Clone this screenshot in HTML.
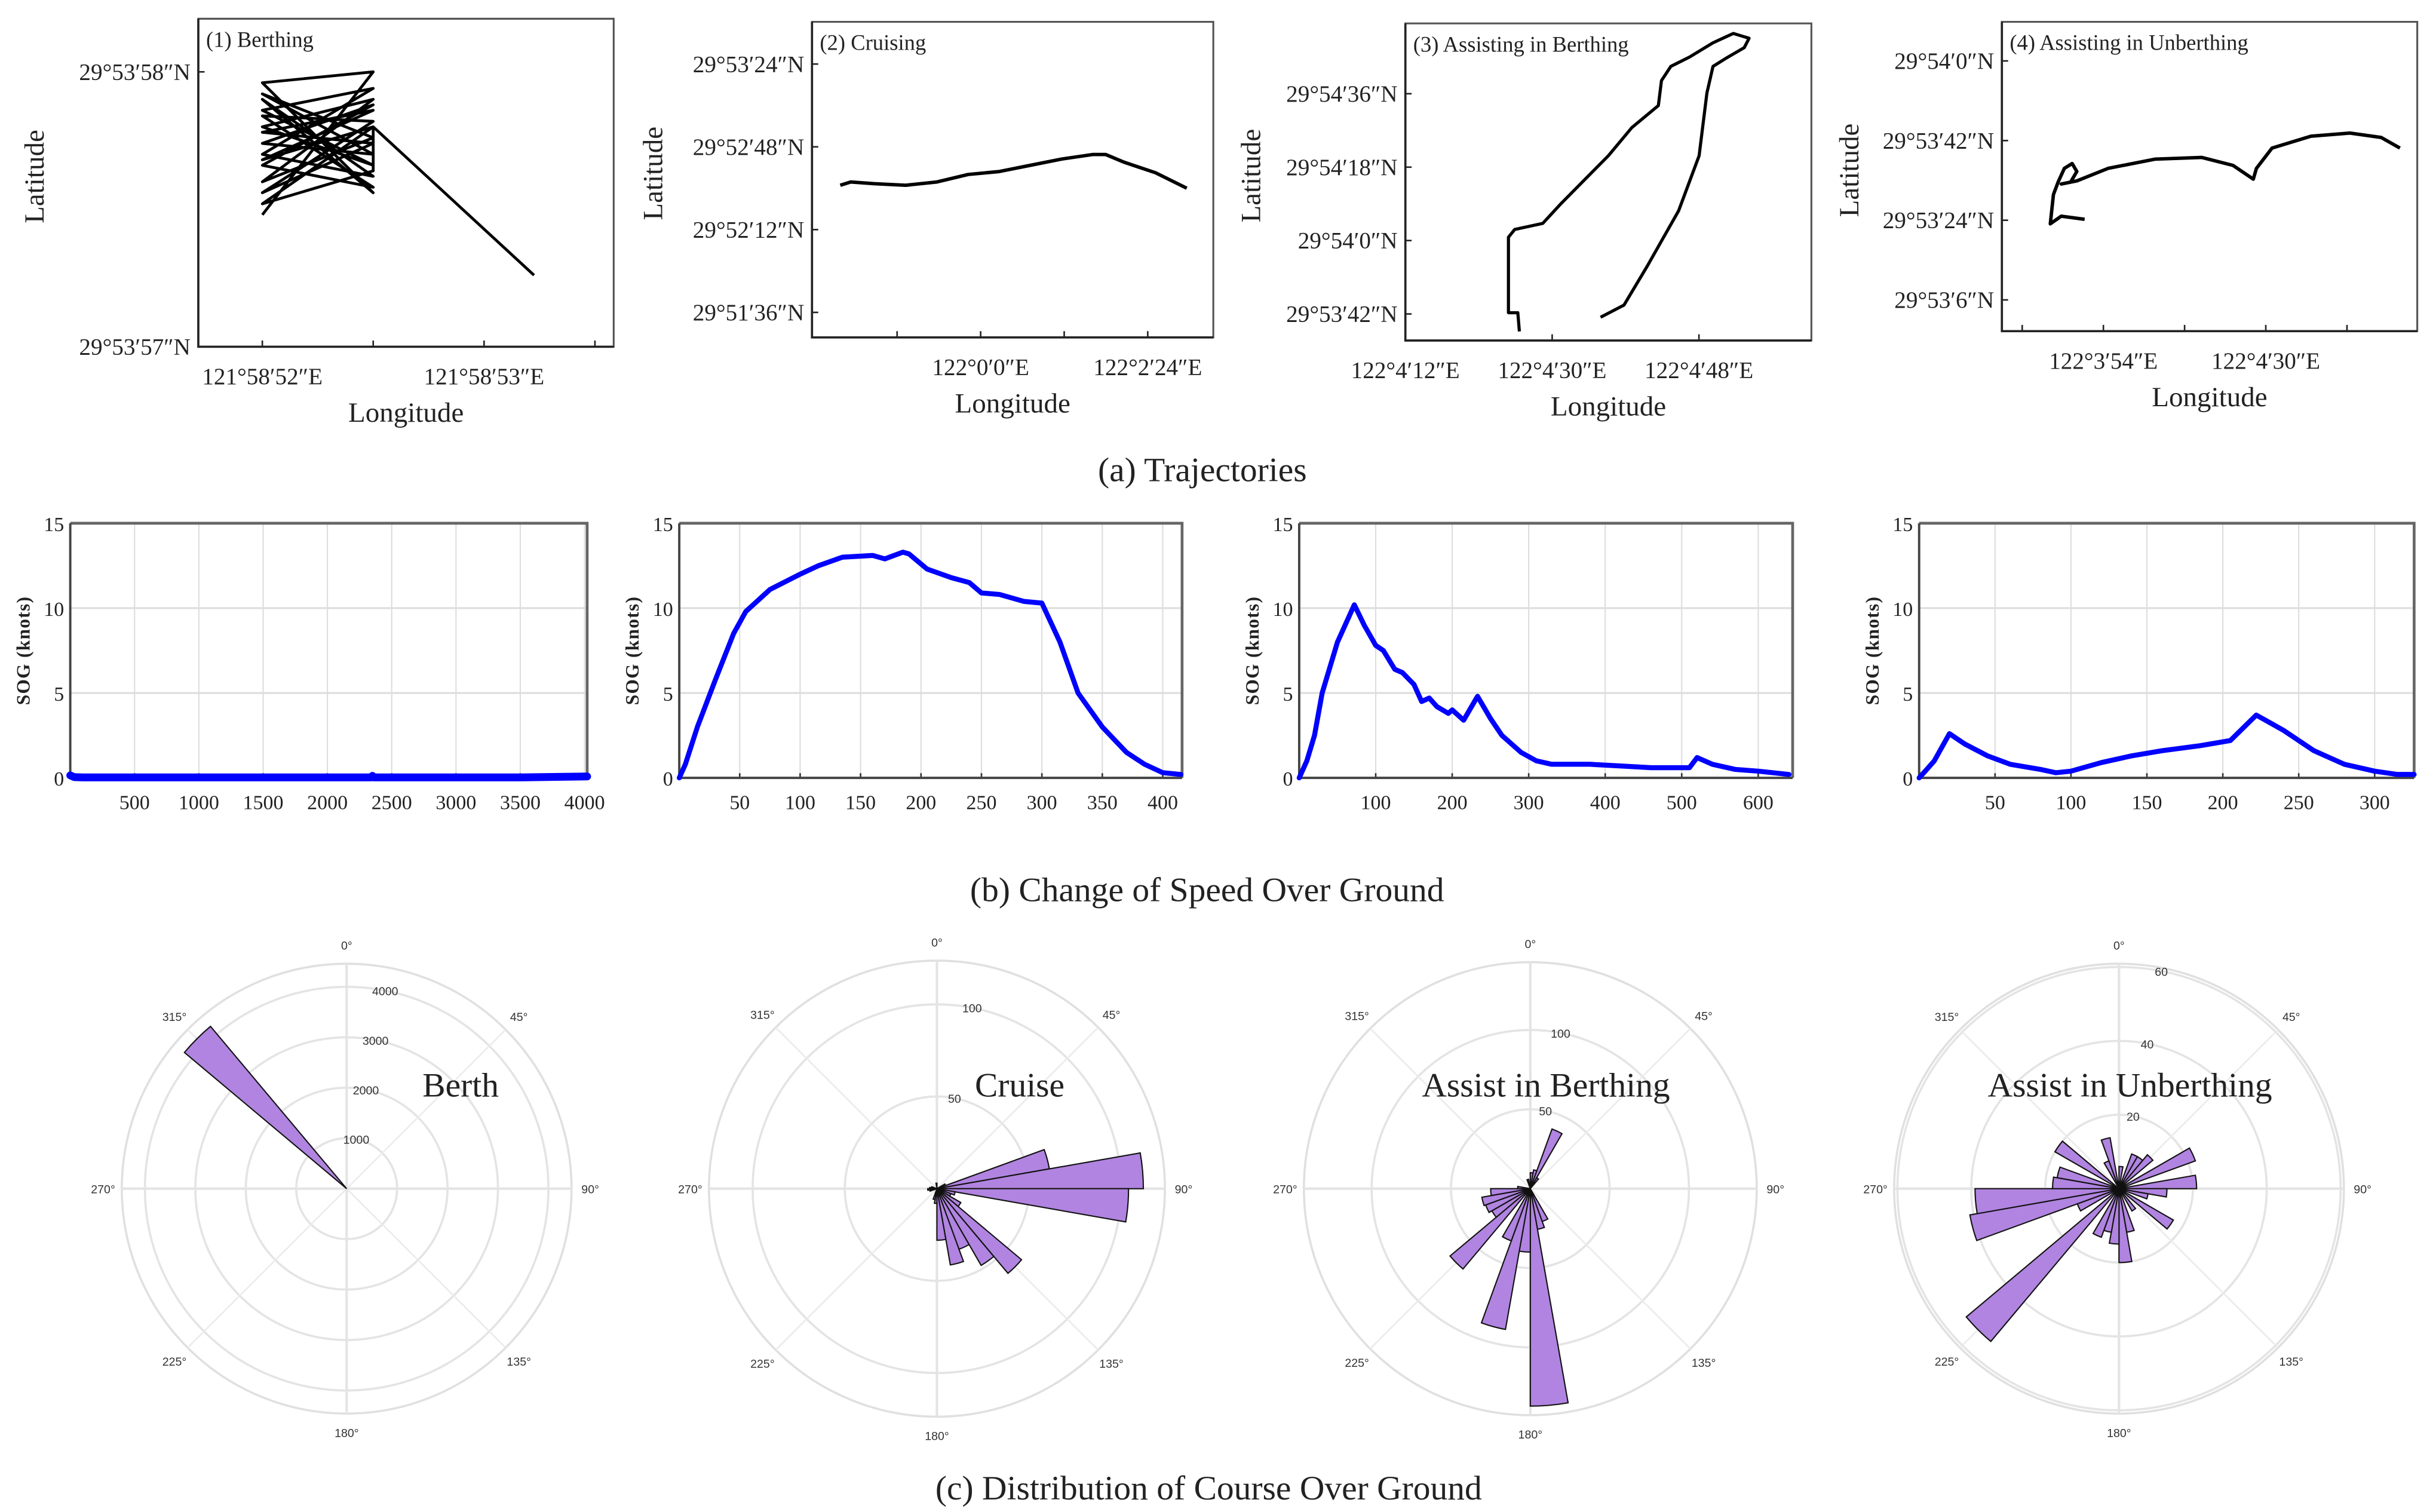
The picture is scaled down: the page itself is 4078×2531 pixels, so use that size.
<!DOCTYPE html>
<html><head><meta charset="utf-8"><style>
html,body{margin:0;padding:0;background:#fff;}
svg{display:block;}
text{font-family:"Liberation Serif",serif;fill:#222;}
.tk{font-size:15px;}
.ax{font-size:18px;}
.sm{font-size:12px;}
.pl{font-size:7.5px;font-family:"Liberation Sans",sans-serif;fill:#333;}
.big{font-size:22px;}
</style></head><body>
<svg id="fig" xmlns="http://www.w3.org/2000/svg" width="4078" height="2531" viewBox="0 0 1560 968" preserveAspectRatio="none">
<rect x="0" y="0" width="1560" height="968" fill="#fff"/>
<text class="big" x="770" y="308" text-anchor="middle">(a) Trajectories</text>
<text class="big" x="773" y="577" text-anchor="middle">(b) Change of Speed Over Ground</text>
<text class="big" x="774" y="960" text-anchor="middle">(c) Distribution of Course Over Ground</text>
</svg>
<script>
// ---------- Trajectory data (lon seconds, lat seconds) ----------
const t1Lon=[52.0,52.5,52.0,52.5,52.0,52.5,52.0,52.5,52.0,52.5,52.0,52.5,52.0,52.5,52.0,52.5,52.0,52.5,52.0,52.5,52.0,52.5,52.0,52.5,52.0,52.5,52.0,52.5,52.0,52.5,52.5,53.225];
const t1Lat=[57.48,58.0,57.96,57.56,57.90,57.62,57.70,57.94,57.86,57.66,57.80,57.90,57.60,57.76,57.92,57.70,57.74,57.88,57.66,57.58,57.84,57.82,57.56,57.74,57.78,57.86,57.68,57.80,57.52,57.64,57.80,57.26];
const t2Lon=[-121,-112,-91.5,-64.6,-37.7,-10.8,16.2,43.1,70,96.9,107.7,123.8,150.7,177.7];
const t2Lat=[31.3,32.7,32,31.3,32.7,36,37.3,40,42.7,44.7,44.7,41.3,36.7,30];
const t3Lon=[265.98,265.79,264.64,264.64,265.40,268.85,271.15,276.90,279.77,283.03,283.41,284.56,286.86,289.73,292.22,294.14,293.56,291.26,289.73,288.97,288.01,285.52,281.69,278.81,275.94];
const t3Lat=[37.7,42.3,42.3,60.8,62.7,64.2,69.2,80.8,87.7,93.1,99.2,102.7,105,108.5,110.8,109.6,107.3,104.6,102.7,96.2,80.8,67.3,53.8,44.2,41.2];
const t4Lon=[229.85,224.66,222.24,222.93,223.97,225.35,227.08,228.12,226.73,224.66,228.12,235.04,245.42,255.80,262.72,267.22,267.91,271.37,280.02,288.67,295.59,299.74];
const t4Lat=[24.2,24.9,23.2,29.8,32.6,35.7,36.8,35.0,32.6,32.2,32.9,35.7,37.8,38.2,36.4,33.3,35.7,40.3,43.0,43.7,42.7,40.3];
const t1XTicks=[52,52.5,53,53.5], t1XLabels=["121°58′52″E","","121°58′53″E",""];
const t1YTicks=[58,57], t1YLabels=["29°53′58″N","29°53′57″N"];
const t2XTicks=[-72,0,72,144], t2XLabels=["","122°0′0″E","","122°2′24″E"];
const t2YTicks=[84,48,12,-24], t2YLabels=["29°53′24″N","29°52′48″N","29°52′12″N","29°51′36″N"];
const t3XTicks=[252,270,288], t3XLabels=["122°4′12″E","122°4′30″E","122°4′48″E"];
const t3YTicks=[96,78,60,42], t3YLabels=["29°54′36″N","29°54′18″N","29°54′0″N","29°53′42″N"];
const t4XTicks=[216,234,252,270,288], t4XLabels=["","122°3′54″E","","122°4′30″E",""];
const t4YTicks=[60,42,24,6], t4YLabels=["29°54′0″N","29°53′42″N","29°53′24″N","29°53′6″N"];

// ---------- SOG data ----------
const s1X=[0,30,100,500,1000,1500,2000,2340,2350,2360,3000,3500,4020];
const s1Y=[0.15,0.05,0.03,0.03,0.03,0.03,0.03,0.03,0.12,0.03,0.03,0.03,0.08];
const s2X=[0,5,15,30,45,55,75,100,115,135,160,170,185,190,205,225,240,250,265,285,300,315,330,350,370,385,400,415];
const s2Y=[0,0.8,3,5.8,8.5,9.8,11.1,12,12.5,13,13.1,12.9,13.3,13.2,12.3,11.8,11.5,10.9,10.8,10.4,10.3,8,5,3,1.5,0.8,0.3,0.2];
const s3X=[0,10,20,30,50,72,85,100,110,125,135,150,160,170,180,195,200,215,233,250,265,290,310,330,380,420,460,510,520,540,570,600,640];
const s3Y=[0,1,2.5,5,8,10.2,9,7.8,7.5,6.4,6.2,5.5,4.5,4.7,4.2,3.8,4,3.4,4.8,3.5,2.5,1.5,1,0.8,0.8,0.7,0.6,0.6,1.2,0.8,0.5,0.4,0.2];
const s4X=[0,5,10,20,30,45,60,80,90,100,120,140,160,185,205,222,240,260,280,300,315,326];
const s4Y=[0,0.5,1,2.6,2,1.3,0.8,0.5,0.3,0.4,0.9,1.3,1.6,1.9,2.2,3.7,2.8,1.6,0.8,0.4,0.2,0.2];
const sogYTicks=[0,5,10,15];
const s1XTicks=[500,1000,1500,2000,2500,3000,3500,4000];
const s2XTicks=[50,100,150,200,250,300,350,400];
const s3XTicks=[100,200,300,400,500,600];
const s4XTicks=[50,100,150,200,250,300];

// ---------- COG rose data (bin start angle deg, count) ----------
const r1Bins=[310], r1Vals=[4200];
const r2Bins=[60,70,80,90,100,110,120,130,140,150,160,170,180,190,250,260,270,280,350];
const r2Vals=[5,62,112,104,10,8,15,60,48,35,42,28,8,6,4,5,4,3,3];
const r3Bins=[0,10,20,30,150,160,170,180,190,200,220,230,240,250,260,270,340];
const r3Vals=[10,12,40,8,22,26,137,40,90,35,66,28,30,31,25,8,6];
const r4Bins=[0,20,30,40,60,80,90,100,120,140,160,170,180,190,200,220,240,250,260,270,280,300,330,340];
const r4Vals=[6,10,10,12,22,21,13,8,17,7,12,20,15,12,14,54,12,41,39,18,17,20,8,14];
const r1Rings=[1000,2000,3000,4000], r2Rings=[50,100], r3Rings=[50,100], r4Rings=[20,40,60];
const angleLabels=["0°","45°","90°","135°","180°","225°","270°","315°"];

const NS="http://www.w3.org/2000/svg";
const svg=document.getElementById('fig');
function mk(tag,attrs,parent){const e=document.createElementNS(NS,tag);for(const k in attrs)e.setAttribute(k,attrs[k]);(parent||svg).appendChild(e);return e;}
function lin(d0,d1,r0,r1){return v=>r0+(v-d0)*(r1-r0)/(d1-d0);}

// ---- trajectory panels ----
function traj(cfg){
  const g=mk('g',{});
  
  
  const {x0,x1,y0,y1}=cfg.box;
  const fx=cfg.fx, fy=cfg.fy;
  const frame=mk('path',{d:`M${x0},${y0}H${x1}V${y1}H${x0}Z`,fill:'none',stroke:'#555','stroke-width':1.2},g);
  
  
  mk('path',{d:`M${x0},${y0}V${y1}H${x1}`,fill:'none',stroke:'#222','stroke-width':1.4},g);
  cfg.xt.forEach((t,i)=>{const x=fx(t);mk('line',{x1:x,x2:x,y1:y1,y2:y1-4,stroke:'#222','stroke-width':1},g);
    if(cfg.xl[i]){const tx=mk('text',{x:x,y:y1+24,'text-anchor':'middle',class:'tk'},g);tx.textContent=cfg.xl[i];
      
      }});
  cfg.yt.forEach((t,i)=>{const y=fy(t);mk('line',{x1:x0,x2:x0+4,y1:y,y2:y,stroke:'#222','stroke-width':1},g);
    const tx=mk('text',{x:x0-5,y:y+5,'text-anchor':'end',class:'tk'},g);tx.textContent=cfg.yl[i];
    
    });
  const pts=cfg.lon.map((v,i)=>fx(v).toFixed(1)+','+fy(cfg.lat[i]).toFixed(1)).join(' ');
  const pl=mk('polyline',{points:pts,fill:'none',stroke:'#000','stroke-width':cfg.sw||2,'stroke-linejoin':'round'},g);
  
  
  const tt=mk('text',{x:x0+5,y:y0+18,class:'sm',style:'font-size:14px'},g);tt.textContent=cfg.title;
  
  
  const yl=mk('text',{x:0,y:0,'text-anchor':'middle',class:'ax',transform:`translate(${cfg.ylx},${(y0+y1)/2-4}) rotate(-90)`},g);yl.textContent='Latitude';
  
  
  const xl=mk('text',{x:(x0+x1)/2,y:y1+48,'text-anchor':'middle',class:'ax'},g);xl.textContent='Longitude';
  
  
}
traj({name:'trajectory-berthing',box:{x0:127,x1:393,y0:12,y1:222},fx:lin(52,53,168,310),fy:lin(58,57,46,222),
  xt:t1XTicks,xl:t1XLabels,yt:t1YTicks,yl:t1YLabels,lon:t1Lon,lat:t1Lat,title:'(1) Berthing',ylx:28,sw:1.8});
traj({name:'trajectory-cruising',box:{x0:520,x1:777,y0:14,y1:216},fx:lin(0,144,628,735),fy:lin(48,12,94,147),
  xt:t2XTicks,xl:t2XLabels,yt:t2YTicks,yl:t2YLabels,lon:t2Lon,lat:t2Lat,title:'(2) Cruising',ylx:424,sw:2.2});
traj({name:'trajectory-assist-berthing',box:{x0:900,x1:1160,y0:15,y1:218},fx:lin(270,288,994,1088),fy:lin(60,42,154,201),
  xt:t3XTicks,xl:t3XLabels,yt:t3YTicks,yl:t3YLabels,lon:t3Lon,lat:t3Lat,title:'(3) Assisting in Berthing',ylx:807,sw:2});
traj({name:'trajectory-assist-unberthing',box:{x0:1282,x1:1548,y0:14,y1:212},fx:lin(234,270,1347,1451),fy:lin(42,24,90,141),
  xt:t4XTicks,xl:t4XLabels,yt:t4YTicks,yl:t4YLabels,lon:t4Lon,lat:t4Lat,title:'(4) Assisting in Unberthing',ylx:1190,sw:2.2});

// ---- SOG panels ----
function sog(cfg){
  const g=mk('g',{});
  
  
  const x0=cfg.x0,x1=cfg.x1,y0=335,y1=498;
  const fx=lin(0,cfg.xmax,x0,x1), fy=lin(0,15,y1,y0);
  cfg.xt.forEach(t=>{const x=fx(t);mk('line',{x1:x,x2:x,y1:y0,y2:y1,stroke:'#ddd','stroke-width':0.8},g);
    mk('line',{x1:x,x2:x,y1:y1,y2:y1-3,stroke:'#333','stroke-width':1},g);
    const tx=mk('text',{x:x,y:y1+20,'text-anchor':'middle',style:'font-size:13px'},g);tx.textContent=t;
    
    });
  sogYTicks.forEach(t=>{const y=fy(t);if(t>0&&t<15)mk('line',{x1:x0,x2:x1,y1:y,y2:y,stroke:'#ddd','stroke-width':1.2},g);
    const tx=mk('text',{x:x0-4,y:y+5,'text-anchor':'end',style:'font-size:13px'},g);tx.textContent=t;
    
    });
  mk('path',{d:`M${x0},${y0}H${x1}V${y1}`,fill:'none',stroke:'#666','stroke-width':1.8},g);
  mk('path',{d:`M${x0},${y0}V${y1}H${x1}`,fill:'none',stroke:'#444','stroke-width':1.5},g);
  const pts=cfg.xs.map((v,i)=>fx(v).toFixed(1)+','+fy(cfg.ys[i]).toFixed(1)).join(' ');
  const pl=mk('polyline',{points:pts,fill:'none',stroke:'#0000ff','stroke-width':cfg.sw||3.2,'stroke-linejoin':'round','stroke-linecap':'round'},g);
  
  
  const yl=mk('text',{x:0,y:0,'text-anchor':'middle',style:'font-size:12px;font-weight:bold;letter-spacing:0.5px',transform:`translate(${x0-26},${(y0+y1)/2}) rotate(-90)`},g);yl.textContent='SOG (knots)';
  
  
}
sog({name:'sog-berthing',x0:45,x1:376,xmax:4020,xt:s1XTicks,xs:s1X,ys:s1Y,sw:5});
sog({name:'sog-cruising',x0:435,x1:757,xmax:416,xt:s2XTicks,xs:s2X,ys:s2Y});
sog({name:'sog-assist-berthing',x0:832,x1:1148,xmax:645,xt:s3XTicks,xs:s3X,ys:s3Y});
sog({name:'sog-assist-unberthing',x0:1229,x1:1546,xmax:326,xt:s4XTicks,xs:s4X,ys:s4Y});

// ---- COG roses ----
function rose(cfg){
  const g=mk('g',{});
  
  
  const cx=cfg.cx,cy=761,R=cfg.R;
  const fr=v=>v*cfg.pxPer;
  const P=(a,r)=>[cx+r*Math.sin(a*Math.PI/180),cy-r*Math.cos(a*Math.PI/180)];
  cfg.rings.forEach(v=>mk('circle',{cx:cx,cy:cy,r:fr(v),fill:'none',stroke:'#e4e4e4','stroke-width':1.4},g));
  mk('circle',{cx:cx,cy:cy,r:R,fill:'none',stroke:'#e0e0e0','stroke-width':1.4},g);
  for(let a=0;a<360;a+=45){const p=P(a,R);mk('line',{x1:cx,y1:cy,x2:p[0],y2:p[1],stroke:(a%90===0)?'#e4e4e4':'#ebebeb','stroke-width':(a%90===0)?1.6:1},g);}
  angleLabels.forEach((l,i)=>{const p=P(i*45,R+12);const t=mk('text',{x:p[0],y:p[1]+3,'text-anchor':'middle',class:'pl'},g);t.textContent=l;
    
    });
  cfg.bins.forEach((a0,i)=>{const r=fr(cfg.vals[i]);const p0=P(a0,r),p1=P(a0+10,r);
    const w=mk('path',{d:`M${cx},${cy}L${p0[0].toFixed(1)},${p0[1].toFixed(1)}A${r.toFixed(1)},${r.toFixed(1)} 0 0 1 ${p1[0].toFixed(1)},${p1[1].toFixed(1)}Z`,fill:'#b084e0',stroke:'#111','stroke-width':0.8},g);
    
    });
  cfg.rings.forEach(v=>{const p=P(11,fr(v));const t=mk('text',{x:p[0],y:p[1]+3,'text-anchor':'middle',class:'pl'},g);t.textContent=v;
    
    });
  const tt=mk('text',{x:cfg.tx,y:702,'text-anchor':'middle',class:'big'},g);tt.textContent=cfg.title;
  
  
}
rose({name:'cog-berth',cx:222,R:144,pxPer:32.3/1000,rings:r1Rings,bins:r1Bins,vals:r1Vals,title:'Berth',tx:295});
rose({name:'cog-cruise',cx:600,R:146,pxPer:59/50,rings:r2Rings,bins:r2Bins,vals:r2Vals,title:'Cruise',tx:653});
rose({name:'cog-assist-berthing',cx:980,R:145,pxPer:50.8/50,rings:r3Rings,bins:r3Bins,vals:r3Vals,title:'Assist in Berthing',tx:990});
rose({name:'cog-assist-unberthing',cx:1357,R:144,pxPer:47.3/20,rings:r4Rings,bins:r4Bins,vals:r4Vals,title:'Assist in Unberthing',tx:1364});
</script>
</body></html>
